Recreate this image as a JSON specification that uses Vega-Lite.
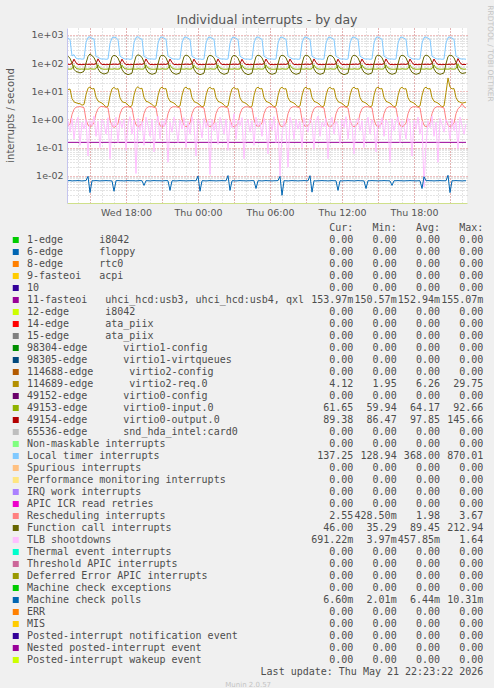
{
"$schema": "https://vega.github.io/schema/vega-lite/v6.json",
"background": "#f0f0f0",
"padding": {"left": 5, "top": 5, "right": 0, "bottom": 0},
"config": {"view": {"stroke": null}, "font": "DejaVu Sans"},
"spacing": 5,
"resolve": {"scale": {"color": "independent", "x": "independent", "y": "independent"}},
"datasets": {
"ts": [
{"t":"2026-05-20T13:10","lt":780,"fc":175,"o":91,"i":62,"rq":11.5,"rs":0.58,"u":0.153,"tlb":0.9,"mc":0.0066},
{"t":"2026-05-20T13:20","lt":690,"fc":150,"o":90,"i":61,"rq":12,"rs":0.7,"u":0.153,"tlb":0.35,"mc":0.0067},
{"t":"2026-05-20T13:30","lt":180,"fc":100,"o":97,"i":63,"rq":5.5,"rs":1.5,"u":0.153,"tlb":1.1,"mc":0.0065},
{"t":"2026-05-20T13:40","lt":200,"fc":60,"o":138,"i":84,"rq":4.2,"rs":2.3,"u":0.153,"tlb":0.2,"mc":0.0066},
{"t":"2026-05-20T13:50","lt":150,"fc":50,"o":102,"i":66,"rq":3.9,"rs":2.7,"u":0.153,"tlb":0.75,"mc":0.0066},
{"t":"2026-05-20T14:00","lt":141,"fc":48,"o":90,"i":62,"rq":3.7,"rs":2.8,"u":0.153,"tlb":1.2,"mc":0.0067},
{"t":"2026-05-20T14:10","lt":143,"fc":45,"o":89,"i":61,"rq":3.6,"rs":2.85,"u":0.153,"tlb":0.12,"mc":0.0066},
{"t":"2026-05-20T14:20","lt":138,"fc":47,"o":88,"i":62,"rq":3.2,"rs":2.75,"u":0.153,"tlb":0.8,"mc":0.0065},
{"t":"2026-05-20T14:30","lt":142,"fc":52,"o":90,"i":61,"rq":3.4,"rs":2.6,"u":0.153,"tlb":0.45,"mc":0.0066},
{"t":"2026-05-20T14:40","lt":540,"fc":100,"o":92,"i":62,"rq":7.5,"rs":1.0,"u":0.153,"tlb":1.0,"mc":0.0067},
{"t":"2026-05-20T14:50","lt":820,"fc":172,"o":90,"i":61,"rq":12.8,"rs":0.62,"u":0.153,"tlb":0.05,"mc":0.0095},
{"t":"2026-05-20T15:00","lt":860,"fc":213,"o":91,"i":63,"rq":14.2,"rs":0.55,"u":0.153,"tlb":0.9,"mc":0.0025},
{"t":"2026-05-20T15:10","lt":760,"fc":183,"o":92,"i":62,"rq":12,"rs":0.6,"u":0.153,"tlb":0.6,"mc":0.0066},
{"t":"2026-05-20T15:20","lt":720,"fc":158,"o":90,"i":61,"rq":12.6,"rs":0.78,"u":0.153,"tlb":1.3,"mc":0.0066},
{"t":"2026-05-20T15:30","lt":170,"fc":110,"o":96,"i":64,"rq":6.2,"rs":1.6,"u":0.153,"tlb":0.25,"mc":0.0067},
{"t":"2026-05-20T15:40","lt":165,"fc":64,"o":142,"i":87,"rq":4.5,"rs":2.4,"u":0.153,"tlb":0.85,"mc":0.0066},
{"t":"2026-05-20T15:50","lt":145,"fc":48,"o":105,"i":67,"rq":4.1,"rs":2.8,"u":0.153,"tlb":0.1,"mc":0.0065},
{"t":"2026-05-20T16:00","lt":139,"fc":44,"o":90,"i":62,"rq":3.8,"rs":2.9,"u":0.153,"tlb":1.0,"mc":0.0066},
{"t":"2026-05-20T16:10","lt":141,"fc":41,"o":89,"i":61,"rq":3.3,"rs":2.8,"u":0.153,"tlb":0.7,"mc":0.0066},
{"t":"2026-05-20T16:20","lt":137,"fc":43,"o":88,"i":61,"rq":2.7,"rs":2.7,"u":0.153,"tlb":0.3,"mc":0.0067},
{"t":"2026-05-20T16:30","lt":140,"fc":46,"o":89,"i":62,"rq":2.9,"rs":2.55,"u":0.153,"tlb":1.15,"mc":0.0066},
{"t":"2026-05-20T16:40","lt":500,"fc":92,"o":91,"i":62,"rq":6.8,"rs":0.95,"u":0.153,"tlb":0.04,"mc":0.0066},
{"t":"2026-05-20T16:50","lt":790,"fc":168,"o":90,"i":61,"rq":12.2,"rs":0.6,"u":0.153,"tlb":0.8,"mc":0.0065},
{"t":"2026-05-20T17:00","lt":840,"fc":190,"o":92,"i":63,"rq":13.8,"rs":0.52,"u":0.153,"tlb":0.55,"mc":0.0028},
{"t":"2026-05-20T17:10","lt":800,"fc":178,"o":91,"i":62,"rq":11.8,"rs":0.58,"u":0.153,"tlb":1.2,"mc":0.0066},
{"t":"2026-05-20T17:20","lt":690,"fc":152,"o":90,"i":61,"rq":12.4,"rs":0.72,"u":0.153,"tlb":0.15,"mc":0.0067},
{"t":"2026-05-20T17:30","lt":178,"fc":102,"o":95,"i":64,"rq":5.8,"rs":1.55,"u":0.153,"tlb":0.9,"mc":0.0066},
{"t":"2026-05-20T17:40","lt":158,"fc":60,"o":139,"i":85,"rq":4.3,"rs":2.35,"u":0.153,"tlb":0.5,"mc":0.0066},
{"t":"2026-05-20T17:50","lt":144,"fc":46,"o":103,"i":66,"rq":4.0,"rs":2.7,"u":0.153,"tlb":1.05,"mc":0.0065},
{"t":"2026-05-20T18:00","lt":138,"fc":42,"o":90,"i":62,"rq":3.9,"rs":2.85,"u":0.153,"tlb":0.08,"mc":0.0066},
{"t":"2026-05-20T18:10","lt":142,"fc":39,"o":89,"i":61,"rq":3.2,"rs":2.8,"u":0.153,"tlb":0.65,"mc":0.0067},
{"t":"2026-05-20T18:20","lt":136,"fc":41,"o":88,"i":61,"rq":2.8,"rs":2.7,"u":0.153,"tlb":1.25,"mc":0.0066},
{"t":"2026-05-20T18:30","lt":141,"fc":44,"o":89,"i":62,"rq":3.1,"rs":2.5,"u":0.153,"tlb":0.3,"mc":0.0066},
{"t":"2026-05-20T18:40","lt":530,"fc":98,"o":91,"i":62,"rq":7.2,"rs":1.05,"u":0.153,"tlb":0.95,"mc":0.0066},
{"t":"2026-05-20T18:50","lt":815,"fc":175,"o":90,"i":61,"rq":12.6,"rs":0.64,"u":0.153,"tlb":0.012,"mc":0.0065},
{"t":"2026-05-20T19:00","lt":870,"fc":198,"o":91,"i":63,"rq":14.5,"rs":0.56,"u":0.153,"tlb":1.1,"mc":0.0066},
{"t":"2026-05-20T19:10","lt":750,"fc":185,"o":92,"i":62,"rq":12.2,"rs":0.6,"u":0.153,"tlb":0.4,"mc":0.0067},
{"t":"2026-05-20T19:20","lt":710,"fc":160,"o":90,"i":61,"rq":12.8,"rs":0.76,"u":0.153,"tlb":0.85,"mc":0.0066},
{"t":"2026-05-20T19:30","lt":172,"fc":108,"o":97,"i":63,"rq":6.1,"rs":1.62,"u":0.153,"tlb":0.12,"mc":0.0045},
{"t":"2026-05-20T19:40","lt":162,"fc":63,"o":141,"i":86,"rq":4.4,"rs":2.42,"u":0.153,"tlb":1.2,"mc":0.0066},
{"t":"2026-05-20T19:50","lt":143,"fc":47,"o":104,"i":67,"rq":4.2,"rs":2.76,"u":0.153,"tlb":0.6,"mc":0.0066},
{"t":"2026-05-20T20:00","lt":140,"fc":43,"o":90,"i":62,"rq":3.8,"rs":2.86,"u":0.153,"tlb":0.25,"mc":0.0065},
{"t":"2026-05-20T20:10","lt":141,"fc":40,"o":89,"i":61,"rq":3.4,"rs":2.82,"u":0.153,"tlb":1.0,"mc":0.0066},
{"t":"2026-05-20T20:20","lt":138,"fc":42,"o":88,"i":61,"rq":2.9,"rs":2.68,"u":0.153,"tlb":0.07,"mc":0.0067},
{"t":"2026-05-20T20:30","lt":140,"fc":45,"o":89,"i":62,"rq":3.0,"rs":2.56,"u":0.153,"tlb":0.75,"mc":0.0066},
{"t":"2026-05-20T20:40","lt":510,"fc":94,"o":92,"i":62,"rq":6.9,"rs":0.98,"u":0.153,"tlb":1.3,"mc":0.0066},
{"t":"2026-05-20T20:50","lt":805,"fc":170,"o":90,"i":61,"rq":12.4,"rs":0.6,"u":0.153,"tlb":0.2,"mc":0.0066},
{"t":"2026-05-20T21:00","lt":855,"fc":193,"o":91,"i":63,"rq":14,"rs":0.54,"u":0.153,"tlb":0.9,"mc":0.0065},
{"t":"2026-05-20T21:10","lt":775,"fc":182,"o":91,"i":62,"rq":12.1,"rs":0.6,"u":0.153,"tlb":0.55,"mc":0.0066},
{"t":"2026-05-20T21:20","lt":705,"fc":156,"o":90,"i":61,"rq":12.5,"rs":0.74,"u":0.153,"tlb":1.1,"mc":0.0067},
{"t":"2026-05-20T21:30","lt":176,"fc":104,"o":96,"i":64,"rq":6,"rs":1.58,"u":0.153,"tlb":0.03,"mc":0.0066},
{"t":"2026-05-20T21:40","lt":161,"fc":62,"o":140,"i":86,"rq":4.4,"rs":2.4,"u":0.153,"tlb":0.8,"mc":0.0030},
{"t":"2026-05-20T21:50","lt":144,"fc":47,"o":104,"i":67,"rq":4.1,"rs":2.74,"u":0.153,"tlb":0.35,"mc":0.0066},
{"t":"2026-05-20T22:00","lt":139,"fc":43,"o":90,"i":62,"rq":3.8,"rs":2.84,"u":0.153,"tlb":1.2,"mc":0.0066},
{"t":"2026-05-20T22:10","lt":140,"fc":40,"o":89,"i":61,"rq":3.3,"rs":2.8,"u":0.153,"tlb":0.6,"mc":0.0065},
{"t":"2026-05-20T22:20","lt":137,"fc":42,"o":88,"i":61,"rq":2.8,"rs":2.7,"u":0.153,"tlb":0.15,"mc":0.0066},
{"t":"2026-05-20T22:30","lt":141,"fc":45,"o":89,"i":62,"rq":3.0,"rs":2.55,"u":0.153,"tlb":0.95,"mc":0.0067},
{"t":"2026-05-20T22:40","lt":525,"fc":96,"o":91,"i":62,"rq":7.1,"rs":1.0,"u":0.153,"tlb":0.45,"mc":0.0066},
{"t":"2026-05-20T22:50","lt":812,"fc":172,"o":90,"i":61,"rq":12.6,"rs":0.62,"u":0.153,"tlb":1.15,"mc":0.0066},
{"t":"2026-05-20T23:00","lt":848,"fc":194,"o":92,"i":63,"rq":14.1,"rs":0.55,"u":0.153,"tlb":0.1,"mc":0.0065},
{"t":"2026-05-20T23:10","lt":765,"fc":181,"o":91,"i":62,"rq":12,"rs":0.59,"u":0.153,"tlb":0.85,"mc":0.0066},
{"t":"2026-05-20T23:20","lt":698,"fc":154,"o":90,"i":61,"rq":12.4,"rs":0.75,"u":0.153,"tlb":0.3,"mc":0.0066},
{"t":"2026-05-20T23:30","lt":174,"fc":103,"o":95,"i":64,"rq":5.9,"rs":1.6,"u":0.153,"tlb":1.25,"mc":0.0067},
{"t":"2026-05-20T23:40","lt":159,"fc":61,"o":139,"i":85,"rq":4.3,"rs":2.38,"u":0.153,"tlb":0.6,"mc":0.0066},
{"t":"2026-05-20T23:50","lt":143,"fc":46,"o":103,"i":66,"rq":4.0,"rs":2.72,"u":0.153,"tlb":0.05,"mc":0.0066},
{"t":"2026-05-21T00:00","lt":138,"fc":42,"o":90,"i":62,"rq":3.7,"rs":2.84,"u":0.153,"tlb":1.0,"mc":0.0098},
{"t":"2026-05-21T00:10","lt":141,"fc":39,"o":89,"i":61,"rq":3.2,"rs":2.8,"u":0.153,"tlb":0.7,"mc":0.0028},
{"t":"2026-05-21T00:20","lt":136,"fc":41,"o":88,"i":61,"rq":2.8,"rs":2.7,"u":0.153,"tlb":0.22,"mc":0.0066},
{"t":"2026-05-21T00:30","lt":140,"fc":44,"o":89,"i":62,"rq":3.0,"rs":2.54,"u":0.153,"tlb":1.1,"mc":0.0066},
{"t":"2026-05-21T00:40","lt":515,"fc":95,"o":92,"i":62,"rq":7,"rs":1.02,"u":0.153,"tlb":0.5,"mc":0.0065},
{"t":"2026-05-21T00:50","lt":800,"fc":169,"o":90,"i":61,"rq":12.3,"rs":0.61,"u":0.153,"tlb":0.9,"mc":0.0066},
{"t":"2026-05-21T01:00","lt":845,"fc":191,"o":91,"i":63,"rq":13.9,"rs":0.55,"u":0.153,"tlb":0.011,"mc":0.0067},
{"t":"2026-05-21T01:10","lt":770,"fc":179,"o":91,"i":62,"rq":12,"rs":0.6,"u":0.153,"tlb":1.0,"mc":0.0066},
{"t":"2026-05-21T01:20","lt":702,"fc":155,"o":90,"i":61,"rq":12.5,"rs":0.74,"u":0.153,"tlb":0.4,"mc":0.0066},
{"t":"2026-05-21T01:30","lt":175,"fc":106,"o":96,"i":64,"rq":6,"rs":1.6,"u":0.153,"tlb":0.8,"mc":0.0065},
{"t":"2026-05-21T01:40","lt":160,"fc":62,"o":141,"i":86,"rq":4.4,"rs":2.4,"u":0.153,"tlb":0.13,"mc":0.0066},
{"t":"2026-05-21T01:50","lt":144,"fc":47,"o":104,"i":67,"rq":4.1,"rs":2.75,"u":0.153,"tlb":1.2,"mc":0.0066},
{"t":"2026-05-21T02:00","lt":139,"fc":43,"o":90,"i":62,"rq":3.8,"rs":2.85,"u":0.153,"tlb":0.65,"mc":0.0067},
{"t":"2026-05-21T02:10","lt":141,"fc":40,"o":89,"i":61,"rq":3.3,"rs":2.8,"u":0.153,"tlb":0.3,"mc":0.0066},
{"t":"2026-05-21T02:20","lt":137,"fc":42,"o":88,"i":61,"rq":2.8,"rs":2.7,"u":0.153,"tlb":1.05,"mc":0.0066},
{"t":"2026-05-21T02:30","lt":140,"fc":45,"o":89,"i":62,"rq":3.0,"rs":2.55,"u":0.153,"tlb":0.08,"mc":0.0101},
{"t":"2026-05-21T02:40","lt":505,"fc":93,"o":91,"i":62,"rq":6.8,"rs":0.99,"u":0.153,"tlb":0.85,"mc":0.0030},
{"t":"2026-05-21T02:50","lt":795,"fc":168,"o":90,"i":61,"rq":12.2,"rs":0.6,"u":0.153,"tlb":0.5,"mc":0.0066},
{"t":"2026-05-21T03:00","lt":840,"fc":190,"o":92,"i":63,"rq":13.8,"rs":0.54,"u":0.153,"tlb":1.6,"mc":0.0066},
{"t":"2026-05-21T03:10","lt":760,"fc":177,"o":91,"i":62,"rq":11.9,"rs":0.6,"u":0.153,"tlb":0.2,"mc":0.0065},
{"t":"2026-05-21T03:20","lt":695,"fc":150,"o":90,"i":61,"rq":12.3,"rs":0.73,"u":0.153,"tlb":0.95,"mc":0.0066},
{"t":"2026-05-21T03:30","lt":176,"fc":101,"o":95,"i":63,"rq":5.8,"rs":1.56,"u":0.153,"tlb":0.6,"mc":0.0067},
{"t":"2026-05-21T03:40","lt":158,"fc":60,"o":138,"i":85,"rq":4.3,"rs":2.36,"u":0.153,"tlb":1.15,"mc":0.0066},
{"t":"2026-05-21T03:50","lt":143,"fc":46,"o":102,"i":66,"rq":4.0,"rs":2.7,"u":0.153,"tlb":0.04,"mc":0.0066},
{"t":"2026-05-21T04:00","lt":138,"fc":42,"o":90,"i":62,"rq":3.7,"rs":2.82,"u":0.153,"tlb":0.7,"mc":0.0065},
{"t":"2026-05-21T04:10","lt":140,"fc":39,"o":89,"i":61,"rq":3.2,"rs":2.78,"u":0.153,"tlb":1.0,"mc":0.0066},
{"t":"2026-05-21T04:20","lt":136,"fc":41,"o":88,"i":61,"rq":2.7,"rs":2.68,"u":0.153,"tlb":0.35,"mc":0.0066},
{"t":"2026-05-21T04:30","lt":140,"fc":44,"o":89,"i":62,"rq":2.9,"rs":2.52,"u":0.153,"tlb":0.9,"mc":0.0067},
{"t":"2026-05-21T04:40","lt":520,"fc":95,"o":91,"i":62,"rq":7,"rs":1.0,"u":0.153,"tlb":0.12,"mc":0.0066},
{"t":"2026-05-21T04:50","lt":808,"fc":171,"o":90,"i":61,"rq":12.5,"rs":0.62,"u":0.153,"tlb":1.2,"mc":0.0035},
{"t":"2026-05-21T05:00","lt":852,"fc":193,"o":91,"i":63,"rq":14,"rs":0.55,"u":0.153,"tlb":0.55,"mc":0.0066},
{"t":"2026-05-21T05:10","lt":772,"fc":181,"o":92,"i":62,"rq":12.1,"rs":0.6,"u":0.153,"tlb":0.8,"mc":0.0066},
{"t":"2026-05-21T05:20","lt":700,"fc":155,"o":90,"i":61,"rq":12.5,"rs":0.75,"u":0.153,"tlb":0.25,"mc":0.0065},
{"t":"2026-05-21T05:30","lt":175,"fc":105,"o":96,"i":64,"rq":6,"rs":1.6,"u":0.153,"tlb":1.1,"mc":0.0066},
{"t":"2026-05-21T05:40","lt":160,"fc":62,"o":140,"i":86,"rq":4.4,"rs":2.4,"u":0.153,"tlb":0.6,"mc":0.0067},
{"t":"2026-05-21T05:50","lt":143,"fc":47,"o":104,"i":67,"rq":4.1,"rs":2.75,"u":0.153,"tlb":0.06,"mc":0.0066},
{"t":"2026-05-21T06:00","lt":139,"fc":43,"o":90,"i":62,"rq":3.8,"rs":2.85,"u":0.153,"tlb":0.95,"mc":0.0066},
{"t":"2026-05-21T06:10","lt":141,"fc":40,"o":89,"i":61,"rq":3.3,"rs":2.8,"u":0.153,"tlb":0.4,"mc":0.0065},
{"t":"2026-05-21T06:20","lt":137,"fc":42,"o":88,"i":61,"rq":2.8,"rs":2.7,"u":0.153,"tlb":1.25,"mc":0.0066},
{"t":"2026-05-21T06:30","lt":140,"fc":45,"o":89,"i":62,"rq":3.0,"rs":2.55,"u":0.153,"tlb":0.15,"mc":0.0066},
{"t":"2026-05-21T06:40","lt":512,"fc":94,"o":92,"i":62,"rq":6.9,"rs":1.01,"u":0.153,"tlb":0.75,"mc":0.0067},
{"t":"2026-05-21T06:50","lt":803,"fc":170,"o":90,"i":61,"rq":12.4,"rs":0.61,"u":0.153,"tlb":0.01,"mc":0.0095},
{"t":"2026-05-21T07:00","lt":846,"fc":192,"o":91,"i":63,"rq":13.9,"rs":0.55,"u":0.153,"tlb":0.3,"mc":0.00201},
{"t":"2026-05-21T07:10","lt":768,"fc":180,"o":91,"i":62,"rq":12,"rs":0.6,"u":0.153,"tlb":0.9,"mc":0.0066},
{"t":"2026-05-21T07:20","lt":701,"fc":154,"o":90,"i":61,"rq":12.4,"rs":0.74,"u":0.153,"tlb":0.5,"mc":0.0066},
{"t":"2026-05-21T07:30","lt":174,"fc":104,"o":96,"i":64,"rq":5.9,"rs":1.59,"u":0.153,"tlb":0.02,"mc":0.0065},
{"t":"2026-05-21T07:40","lt":160,"fc":62,"o":140,"i":86,"rq":4.4,"rs":2.4,"u":0.153,"tlb":1.2,"mc":0.0066},
{"t":"2026-05-21T07:50","lt":143,"fc":47,"o":104,"i":67,"rq":4.1,"rs":2.74,"u":0.153,"tlb":0.7,"mc":0.0067},
{"t":"2026-05-21T08:00","lt":139,"fc":43,"o":90,"i":62,"rq":3.8,"rs":2.84,"u":0.153,"tlb":0.2,"mc":0.0066},
{"t":"2026-05-21T08:10","lt":141,"fc":40,"o":89,"i":61,"rq":3.3,"rs":2.8,"u":0.153,"tlb":1.0,"mc":0.0066},
{"t":"2026-05-21T08:20","lt":137,"fc":42,"o":88,"i":61,"rq":2.8,"rs":2.7,"u":0.153,"tlb":0.45,"mc":0.0065},
{"t":"2026-05-21T08:30","lt":140,"fc":45,"o":89,"i":62,"rq":3.0,"rs":2.55,"u":0.153,"tlb":0.85,"mc":0.0066},
{"t":"2026-05-21T08:40","lt":518,"fc":95,"o":91,"i":62,"rq":7,"rs":1.0,"u":0.153,"tlb":0.1,"mc":0.0066},
{"t":"2026-05-21T08:50","lt":810,"fc":171,"o":90,"i":61,"rq":12.5,"rs":0.62,"u":0.153,"tlb":1.15,"mc":0.0067},
{"t":"2026-05-21T09:00","lt":850,"fc":194,"o":92,"i":63,"rq":14,"rs":0.55,"u":0.153,"tlb":0.6,"mc":0.0066},
{"t":"2026-05-21T09:10","lt":770,"fc":181,"o":91,"i":62,"rq":12,"rs":0.6,"u":0.153,"tlb":0.35,"mc":0.0066},
{"t":"2026-05-21T09:20","lt":700,"fc":155,"o":90,"i":61,"rq":12.5,"rs":0.75,"u":0.153,"tlb":1.05,"mc":0.0100},
{"t":"2026-05-21T09:30","lt":175,"fc":105,"o":96,"i":64,"rq":6,"rs":1.6,"u":0.153,"tlb":0.75,"mc":0.0026},
{"t":"2026-05-21T09:40","lt":160,"fc":62,"o":141,"i":86,"rq":4.4,"rs":2.4,"u":0.153,"tlb":0.09,"mc":0.0066},
{"t":"2026-05-21T09:50","lt":144,"fc":47,"o":104,"i":67,"rq":4.1,"rs":2.75,"u":0.153,"tlb":0.9,"mc":0.0065},
{"t":"2026-05-21T10:00","lt":139,"fc":43,"o":90,"i":62,"rq":3.8,"rs":2.85,"u":0.153,"tlb":1.3,"mc":0.0066},
{"t":"2026-05-21T10:10","lt":141,"fc":40,"o":89,"i":61,"rq":3.3,"rs":2.8,"u":0.153,"tlb":0.25,"mc":0.0066},
{"t":"2026-05-21T10:20","lt":137,"fc":42,"o":88,"i":61,"rq":2.8,"rs":2.7,"u":0.153,"tlb":0.8,"mc":0.0067},
{"t":"2026-05-21T10:30","lt":140,"fc":45,"o":89,"i":62,"rq":3.0,"rs":2.55,"u":0.153,"tlb":0.55,"mc":0.0066},
{"t":"2026-05-21T10:40","lt":508,"fc":93,"o":92,"i":62,"rq":6.9,"rs":0.99,"u":0.153,"tlb":1.1,"mc":0.0066},
{"t":"2026-05-21T10:50","lt":798,"fc":169,"o":90,"i":61,"rq":12.3,"rs":0.6,"u":0.153,"tlb":0.04,"mc":0.0065},
{"t":"2026-05-21T11:00","lt":843,"fc":191,"o":91,"i":63,"rq":13.9,"rs":0.54,"u":0.153,"tlb":0.7,"mc":0.0066},
{"t":"2026-05-21T11:10","lt":766,"fc":179,"o":91,"i":62,"rq":12,"rs":0.6,"u":0.153,"tlb":1.2,"mc":0.0067},
{"t":"2026-05-21T11:20","lt":697,"fc":153,"o":90,"i":61,"rq":12.4,"rs":0.74,"u":0.153,"tlb":0.3,"mc":0.0066},
{"t":"2026-05-21T11:30","lt":175,"fc":103,"o":95,"i":64,"rq":5.9,"rs":1.58,"u":0.153,"tlb":0.85,"mc":0.0066},
{"t":"2026-05-21T11:40","lt":159,"fc":61,"o":139,"i":85,"rq":4.3,"rs":2.38,"u":0.153,"tlb":0.6,"mc":0.0030},
{"t":"2026-05-21T11:50","lt":143,"fc":46,"o":103,"i":66,"rq":4.0,"rs":2.72,"u":0.153,"tlb":0.14,"mc":0.0066},
{"t":"2026-05-21T12:00","lt":138,"fc":42,"o":90,"i":62,"rq":3.7,"rs":2.83,"u":0.153,"tlb":1.0,"mc":0.0065},
{"t":"2026-05-21T12:10","lt":141,"fc":39,"o":89,"i":61,"rq":3.2,"rs":2.8,"u":0.153,"tlb":0.5,"mc":0.0066},
{"t":"2026-05-21T12:20","lt":136,"fc":41,"o":88,"i":61,"rq":2.8,"rs":2.7,"u":0.153,"tlb":1.25,"mc":0.0066},
{"t":"2026-05-21T12:30","lt":140,"fc":44,"o":89,"i":62,"rq":3.0,"rs":2.54,"u":0.153,"tlb":0.2,"mc":0.0067},
{"t":"2026-05-21T12:40","lt":515,"fc":95,"o":91,"i":62,"rq":7,"rs":1.0,"u":0.153,"tlb":0.95,"mc":0.0066},
{"t":"2026-05-21T12:50","lt":806,"fc":170,"o":90,"i":61,"rq":12.4,"rs":0.61,"u":0.153,"tlb":0.7,"mc":0.0066},
{"t":"2026-05-21T13:00","lt":848,"fc":193,"o":91,"i":63,"rq":14,"rs":0.55,"u":0.153,"tlb":0.06,"mc":0.0065},
{"t":"2026-05-21T13:10","lt":771,"fc":180,"o":92,"i":62,"rq":12.1,"rs":0.6,"u":0.153,"tlb":0.8,"mc":0.0066},
{"t":"2026-05-21T13:20","lt":703,"fc":155,"o":90,"i":61,"rq":12.5,"rs":0.75,"u":0.153,"tlb":1.1,"mc":0.0067},
{"t":"2026-05-21T13:30","lt":176,"fc":105,"o":96,"i":64,"rq":6,"rs":1.6,"u":0.153,"tlb":0.4,"mc":0.0066},
{"t":"2026-05-21T13:40","lt":160,"fc":62,"o":140,"i":86,"rq":4.4,"rs":2.4,"u":0.153,"tlb":0.9,"mc":0.0066},
{"t":"2026-05-21T13:50","lt":144,"fc":47,"o":104,"i":67,"rq":4.1,"rs":2.75,"u":0.153,"tlb":0.1,"mc":0.0065},
{"t":"2026-05-21T14:00","lt":139,"fc":43,"o":90,"i":62,"rq":3.8,"rs":2.85,"u":0.153,"tlb":0.65,"mc":0.0035},
{"t":"2026-05-21T14:10","lt":141,"fc":40,"o":89,"i":61,"rq":3.3,"rs":2.8,"u":0.153,"tlb":1.2,"mc":0.0066},
{"t":"2026-05-21T14:20","lt":137,"fc":42,"o":88,"i":61,"rq":2.8,"rs":2.7,"u":0.153,"tlb":0.3,"mc":0.0066},
{"t":"2026-05-21T14:30","lt":140,"fc":45,"o":89,"i":62,"rq":3.0,"rs":2.55,"u":0.153,"tlb":1.0,"mc":0.0067},
{"t":"2026-05-21T14:40","lt":520,"fc":96,"o":92,"i":62,"rq":7.1,"rs":1.0,"u":0.153,"tlb":0.55,"mc":0.0066},
{"t":"2026-05-21T14:50","lt":812,"fc":172,"o":90,"i":61,"rq":12.6,"rs":0.62,"u":0.153,"tlb":0.07,"mc":0.0066},
{"t":"2026-05-21T15:00","lt":855,"fc":195,"o":91,"i":63,"rq":14.1,"rs":0.55,"u":0.153,"tlb":0.85,"mc":0.0065},
{"t":"2026-05-21T15:10","lt":774,"fc":182,"o":91,"i":62,"rq":12.1,"rs":0.6,"u":0.153,"tlb":0.5,"mc":0.0066},
{"t":"2026-05-21T15:20","lt":706,"fc":157,"o":90,"i":61,"rq":12.5,"rs":0.75,"u":0.153,"tlb":1.15,"mc":0.0066},
{"t":"2026-05-21T15:30","lt":176,"fc":106,"o":96,"i":64,"rq":6.1,"rs":1.6,"u":0.153,"tlb":0.25,"mc":0.0067},
{"t":"2026-05-21T15:40","lt":161,"fc":63,"o":141,"i":86,"rq":4.4,"rs":2.41,"u":0.153,"tlb":0.95,"mc":0.0066},
{"t":"2026-05-21T15:50","lt":144,"fc":47,"o":104,"i":67,"rq":4.1,"rs":2.75,"u":0.153,"tlb":0.7,"mc":0.0066},
{"t":"2026-05-21T16:00","lt":139,"fc":43,"o":90,"i":62,"rq":3.8,"rs":2.85,"u":0.153,"tlb":0.03,"mc":0.0065},
{"t":"2026-05-21T16:10","lt":141,"fc":40,"o":89,"i":61,"rq":3.3,"rs":2.8,"u":0.153,"tlb":1.05,"mc":0.0045},
{"t":"2026-05-21T16:20","lt":137,"fc":42,"o":88,"i":61,"rq":2.8,"rs":2.7,"u":0.153,"tlb":0.4,"mc":0.0066},
{"t":"2026-05-21T16:30","lt":140,"fc":45,"o":89,"i":62,"rq":3.0,"rs":2.55,"u":0.153,"tlb":0.8,"mc":0.0066},
{"t":"2026-05-21T16:40","lt":510,"fc":94,"o":91,"i":62,"rq":6.9,"rs":0.99,"u":0.153,"tlb":1.25,"mc":0.0067},
{"t":"2026-05-21T16:50","lt":800,"fc":170,"o":90,"i":61,"rq":12.4,"rs":0.61,"u":0.153,"tlb":0.15,"mc":0.0066},
{"t":"2026-05-21T17:00","lt":846,"fc":192,"o":92,"i":63,"rq":13.9,"rs":0.55,"u":0.153,"tlb":0.9,"mc":0.0066},
{"t":"2026-05-21T17:10","lt":768,"fc":180,"o":91,"i":62,"rq":12,"rs":0.6,"u":0.153,"tlb":0.6,"mc":0.0065},
{"t":"2026-05-21T17:20","lt":699,"fc":154,"o":90,"i":61,"rq":12.4,"rs":0.74,"u":0.153,"tlb":0.2,"mc":0.0066},
{"t":"2026-05-21T17:30","lt":175,"fc":104,"o":95,"i":64,"rq":5.9,"rs":1.58,"u":0.153,"tlb":1.1,"mc":0.0066},
{"t":"2026-05-21T17:40","lt":160,"fc":62,"o":140,"i":86,"rq":4.4,"rs":2.4,"u":0.153,"tlb":0.75,"mc":0.0067},
{"t":"2026-05-21T17:50","lt":143,"fc":47,"o":104,"i":67,"rq":4.1,"rs":2.74,"u":0.153,"tlb":0.05,"mc":0.0066},
{"t":"2026-05-21T18:00","lt":139,"fc":43,"o":90,"i":62,"rq":3.8,"rs":2.84,"u":0.153,"tlb":0.95,"mc":0.0066},
{"t":"2026-05-21T18:10","lt":141,"fc":40,"o":89,"i":61,"rq":3.3,"rs":2.8,"u":0.153,"tlb":0.45,"mc":0.0065},
{"t":"2026-05-21T18:20","lt":137,"fc":42,"o":88,"i":61,"rq":2.8,"rs":2.7,"u":0.153,"tlb":1.2,"mc":0.0066},
{"t":"2026-05-21T18:30","lt":140,"fc":45,"o":89,"i":62,"rq":3.0,"rs":2.55,"u":0.153,"tlb":0.3,"mc":0.0066},
{"t":"2026-05-21T18:40","lt":517,"fc":95,"o":92,"i":62,"rq":7,"rs":1.0,"u":0.153,"tlb":0.85,"mc":0.0035},
{"t":"2026-05-21T18:50","lt":805,"fc":171,"o":90,"i":61,"rq":12.5,"rs":0.62,"u":0.153,"tlb":0.004,"mc":0.0092},
{"t":"2026-05-21T19:00","lt":850,"fc":194,"o":91,"i":63,"rq":14,"rs":0.55,"u":0.153,"tlb":0.12,"mc":0.0066},
{"t":"2026-05-21T19:10","lt":770,"fc":181,"o":91,"i":62,"rq":12.1,"rs":0.6,"u":0.153,"tlb":0.9,"mc":0.0067},
{"t":"2026-05-21T19:20","lt":702,"fc":155,"o":90,"i":61,"rq":12.5,"rs":0.75,"u":0.153,"tlb":0.5,"mc":0.0066},
{"t":"2026-05-21T19:30","lt":175,"fc":105,"o":96,"i":64,"rq":6,"rs":1.6,"u":0.153,"tlb":1.3,"mc":0.0066},
{"t":"2026-05-21T19:40","lt":160,"fc":62,"o":140,"i":86,"rq":4.4,"rs":2.4,"u":0.153,"tlb":0.25,"mc":0.0065},
{"t":"2026-05-21T19:50","lt":143,"fc":47,"o":104,"i":67,"rq":4.1,"rs":2.75,"u":0.153,"tlb":0.8,"mc":0.0066},
{"t":"2026-05-21T20:00","lt":139,"fc":43,"o":90,"i":62,"rq":3.8,"rs":2.85,"u":0.153,"tlb":0.03,"mc":0.0066},
{"t":"2026-05-21T20:10","lt":141,"fc":40,"o":89,"i":61,"rq":3.3,"rs":2.8,"u":0.153,"tlb":1.1,"mc":0.0067},
{"t":"2026-05-21T20:20","lt":137,"fc":42,"o":88,"i":61,"rq":2.8,"rs":2.7,"u":0.153,"tlb":0.65,"mc":0.0066},
{"t":"2026-05-21T20:30","lt":140,"fc":45,"o":89,"i":62,"rq":3.0,"rs":2.55,"u":0.153,"tlb":0.35,"mc":0.0066},
{"t":"2026-05-21T20:40","lt":515,"fc":95,"o":91,"i":62,"rq":9,"rs":1.0,"u":0.153,"tlb":1.0,"mc":0.0066},
{"t":"2026-05-21T20:50","lt":808,"fc":172,"o":90,"i":61,"rq":29.75,"rs":0.62,"u":0.153,"tlb":0.7,"mc":0.0103},
{"t":"2026-05-21T21:00","lt":852,"fc":194,"o":91,"i":63,"rq":14,"rs":0.55,"u":0.153,"tlb":0.2,"mc":0.0025},
{"t":"2026-05-21T21:10","lt":772,"fc":182,"o":92,"i":62,"rq":12.1,"rs":0.6,"u":0.153,"tlb":1.05,"mc":0.0066},
{"t":"2026-05-21T21:20","lt":704,"fc":156,"o":90,"i":61,"rq":12.5,"rs":0.75,"u":0.153,"tlb":0.4,"mc":0.0066},
{"t":"2026-05-21T21:30","lt":176,"fc":105,"o":96,"i":64,"rq":6,"rs":1.6,"u":0.153,"tlb":0.85,"mc":0.0067},
{"t":"2026-05-21T21:40","lt":161,"fc":62,"o":145.66,"i":92.66,"rq":4.4,"rs":2.4,"u":0.153,"tlb":0.09,"mc":0.0066},
{"t":"2026-05-21T21:50","lt":144,"fc":47,"o":104,"i":67,"rq":4.1,"rs":2.75,"u":0.153,"tlb":1.2,"mc":0.0066},
{"t":"2026-05-21T22:00","lt":139,"fc":43,"o":90,"i":62,"rq":3.8,"rs":3.6,"u":0.153,"tlb":0.6,"mc":0.0065},
{"t":"2026-05-21T22:10","lt":141,"fc":44,"o":89,"i":61,"rq":3.9,"rs":2.8,"u":0.153,"tlb":0.3,"mc":0.0066},
{"t":"2026-05-21T22:20","lt":137.25,"fc":46,"o":89.38,"i":61.65,"rq":4.12,"rs":2.55,"u":0.153,"tlb":0.691,"mc":0.0066}
],
"ytitle": [{"txt":"interrupts / second"}],
"rrd": [{"txt":"RRDTOOL / TOBI OETIKER"}],
"leg": [
{"i":1,"label":"1-edge\u00a0\u00a0\u00a0\u00a0\u00a0\u00a0i8042","cur":"0.00\u00a0","min":"0.00\u00a0","avg":"0.00\u00a0","max":"0.00\u00a0"},
{"i":2,"label":"6-edge\u00a0\u00a0\u00a0\u00a0\u00a0\u00a0floppy","cur":"0.00\u00a0","min":"0.00\u00a0","avg":"0.00\u00a0","max":"0.00\u00a0"},
{"i":3,"label":"8-edge\u00a0\u00a0\u00a0\u00a0\u00a0\u00a0rtc0","cur":"0.00\u00a0","min":"0.00\u00a0","avg":"0.00\u00a0","max":"0.00\u00a0"},
{"i":4,"label":"9-fasteoi\u00a0\u00a0\u00a0acpi","cur":"0.00\u00a0","min":"0.00\u00a0","avg":"0.00\u00a0","max":"0.00\u00a0"},
{"i":5,"label":"10","cur":"0.00\u00a0","min":"0.00\u00a0","avg":"0.00\u00a0","max":"0.00\u00a0"},
{"i":6,"label":"11-fasteoi\u00a0\u00a0\u00a0uhci_hcd:usb3,\u00a0uhci_hcd:usb4,\u00a0qxl","cur":"153.97m","min":"150.57m","avg":"152.94m","max":"155.07m"},
{"i":7,"label":"12-edge\u00a0\u00a0\u00a0\u00a0\u00a0\u00a0i8042","cur":"0.00\u00a0","min":"0.00\u00a0","avg":"0.00\u00a0","max":"0.00\u00a0"},
{"i":8,"label":"14-edge\u00a0\u00a0\u00a0\u00a0\u00a0\u00a0ata_piix","cur":"0.00\u00a0","min":"0.00\u00a0","avg":"0.00\u00a0","max":"0.00\u00a0"},
{"i":9,"label":"15-edge\u00a0\u00a0\u00a0\u00a0\u00a0\u00a0ata_piix","cur":"0.00\u00a0","min":"0.00\u00a0","avg":"0.00\u00a0","max":"0.00\u00a0"},
{"i":10,"label":"98304-edge\u00a0\u00a0\u00a0\u00a0\u00a0\u00a0virtio1-config","cur":"0.00\u00a0","min":"0.00\u00a0","avg":"0.00\u00a0","max":"0.00\u00a0"},
{"i":11,"label":"98305-edge\u00a0\u00a0\u00a0\u00a0\u00a0\u00a0virtio1-virtqueues","cur":"0.00\u00a0","min":"0.00\u00a0","avg":"0.00\u00a0","max":"0.00\u00a0"},
{"i":12,"label":"114688-edge\u00a0\u00a0\u00a0\u00a0\u00a0\u00a0virtio2-config","cur":"0.00\u00a0","min":"0.00\u00a0","avg":"0.00\u00a0","max":"0.00\u00a0"},
{"i":13,"label":"114689-edge\u00a0\u00a0\u00a0\u00a0\u00a0\u00a0virtio2-req.0","cur":"4.12\u00a0","min":"1.95\u00a0","avg":"6.26\u00a0","max":"29.75\u00a0"},
{"i":14,"label":"49152-edge\u00a0\u00a0\u00a0\u00a0\u00a0\u00a0virtio0-config","cur":"0.00\u00a0","min":"0.00\u00a0","avg":"0.00\u00a0","max":"0.00\u00a0"},
{"i":15,"label":"49153-edge\u00a0\u00a0\u00a0\u00a0\u00a0\u00a0virtio0-input.0","cur":"61.65\u00a0","min":"59.94\u00a0","avg":"64.17\u00a0","max":"92.66\u00a0"},
{"i":16,"label":"49154-edge\u00a0\u00a0\u00a0\u00a0\u00a0\u00a0virtio0-output.0","cur":"89.38\u00a0","min":"86.47\u00a0","avg":"97.85\u00a0","max":"145.66\u00a0"},
{"i":17,"label":"65536-edge\u00a0\u00a0\u00a0\u00a0\u00a0\u00a0snd_hda_intel:card0","cur":"0.00\u00a0","min":"0.00\u00a0","avg":"0.00\u00a0","max":"0.00\u00a0"},
{"i":18,"label":"Non-maskable interrupts","cur":"0.00\u00a0","min":"0.00\u00a0","avg":"0.00\u00a0","max":"0.00\u00a0"},
{"i":19,"label":"Local timer interrupts","cur":"137.25\u00a0","min":"128.94\u00a0","avg":"368.00\u00a0","max":"870.01\u00a0"},
{"i":20,"label":"Spurious interrupts","cur":"0.00\u00a0","min":"0.00\u00a0","avg":"0.00\u00a0","max":"0.00\u00a0"},
{"i":21,"label":"Performance monitoring interrupts","cur":"0.00\u00a0","min":"0.00\u00a0","avg":"0.00\u00a0","max":"0.00\u00a0"},
{"i":22,"label":"IRQ work interrupts","cur":"0.00\u00a0","min":"0.00\u00a0","avg":"0.00\u00a0","max":"0.00\u00a0"},
{"i":23,"label":"APIC ICR read retries","cur":"0.00\u00a0","min":"0.00\u00a0","avg":"0.00\u00a0","max":"0.00\u00a0"},
{"i":24,"label":"Rescheduling interrupts","cur":"2.55\u00a0","min":"428.50m","avg":"1.98\u00a0","max":"3.67\u00a0"},
{"i":25,"label":"Function call interrupts","cur":"46.00\u00a0","min":"35.29\u00a0","avg":"89.45\u00a0","max":"212.94\u00a0"},
{"i":26,"label":"TLB shootdowns","cur":"691.22m","min":"3.97m","avg":"457.85m","max":"1.64\u00a0"},
{"i":27,"label":"Thermal event interrupts","cur":"0.00\u00a0","min":"0.00\u00a0","avg":"0.00\u00a0","max":"0.00\u00a0"},
{"i":28,"label":"Threshold APIC interrupts","cur":"0.00\u00a0","min":"0.00\u00a0","avg":"0.00\u00a0","max":"0.00\u00a0"},
{"i":29,"label":"Deferred Error APIC interrupts","cur":"0.00\u00a0","min":"0.00\u00a0","avg":"0.00\u00a0","max":"0.00\u00a0"},
{"i":30,"label":"Machine check exceptions","cur":"0.00\u00a0","min":"0.00\u00a0","avg":"0.00\u00a0","max":"0.00\u00a0"},
{"i":31,"label":"Machine check polls","cur":"6.60m","min":"2.01m","avg":"6.44m","max":"10.31m"},
{"i":32,"label":"ERR","cur":"0.00\u00a0","min":"0.00\u00a0","avg":"0.00\u00a0","max":"0.00\u00a0"},
{"i":33,"label":"MIS","cur":"0.00\u00a0","min":"0.00\u00a0","avg":"0.00\u00a0","max":"0.00\u00a0"},
{"i":34,"label":"Posted-interrupt notification event","cur":"0.00\u00a0","min":"0.00\u00a0","avg":"0.00\u00a0","max":"0.00\u00a0"},
{"i":35,"label":"Nested posted-interrupt event","cur":"0.00\u00a0","min":"0.00\u00a0","avg":"0.00\u00a0","max":"0.00\u00a0"},
{"i":36,"label":"Posted-interrupt wakeup event","cur":"0.00\u00a0","min":"0.00\u00a0","avg":"0.00\u00a0","max":"0.00\u00a0"}
],
"hdr": [
{"i":0,"stat":"cur","h":"Cur:\u00a0\u00a0"},
{"i":0,"stat":"min","h":"Min:\u00a0\u00a0"},
{"i":0,"stat":"avg","h":"Avg:\u00a0\u00a0"},
{"i":0,"stat":"max","h":"Max:\u00a0\u00a0"}
],
"foot": [
{"i":37,"stat":"max","f":"Last update: Thu May 21 22:23:22 2026"}
]
},
"vconcat": [
{
"hconcat": [
{
"width": 11,
"height": 175,
"data": {"name": "ytitle"},
"mark": {"type": "text", "angle": 270, "align": "center", "baseline": "middle", "fontSize": 10, "color": "#555555", "font": "DejaVu Sans"},
"encoding": {"text": {"field": "txt"}}
},
{
"hconcat": [
{
"width": 400,
"height": 175,
"view": {"fill": "#ffffff", "stroke": null},
"title": {"text": "Individual interrupts - by day", "fontSize": 12.5, "fontWeight": "normal", "color": "#555555", "font": "DejaVu Sans", "anchor": "middle", "offset": 2},
"data": {"name": "ts"},
"transform": [{"fold": ["u","rq","i","o","lt","rs","fc","tlb","mc"], "as": ["s","v"]}],
"resolve": {"axis": {"x": "independent", "y": "independent"}},
"layer": [
{
"transform": [{"filter": "datum.s == 'u'"}],
"mark": {"type": "point", "opacity": 0},
"encoding": {
"x": {"field": "t", "type": "temporal", "axis": {"orient": "bottom", "title": null, "tickCount": 34, "grid": true, "gridColor": "#c8c8c8", "gridDash": [1,2], "labels": false, "ticks": false, "domain": false}},
"y": {"field": "v", "type": "quantitative", "axis": {"orient": "left", "title": null, "values": [0.002,0.003,0.004,0.005,0.006,0.007,0.008,0.009,0.02,0.03,0.04,0.05,0.06,0.07,0.08,0.09,0.2,0.3,0.4,0.5,0.6,0.7,0.8,0.9,2,3,4,5,6,7,8,9,20,30,40,50,60,70,80,90,200,300,400,500,600,700,800,900], "grid": true, "gridColor": "#c8c8c8", "gridDash": [1,2], "labels": false, "ticks": false, "domain": false}}
}
},
{
"transform": [{"filter": "datum.s == 'u'"}],
"mark": {"type": "point", "opacity": 0},
"encoding": {
"x": {"field": "t", "type": "temporal", "axis": {"orient": "bottom", "title": null, "tickCount": 11, "grid": true, "gridColor": "#e08080", "gridDash": [1,2], "labels": false, "ticks": false, "domain": false}},
"y": {"field": "v", "type": "quantitative", "axis": null}
}
},
{
"mark": {"type": "line", "strokeWidth": 1},
"encoding": {
"x": {"field": "t", "type": "temporal", "scale": {"domain": [{"year": 2026, "month": 5, "date": 20, "hours": 13, "minutes": 5}, {"year": 2026, "month": 5, "date": 21, "hours": 22, "minutes": 25}], "nice": false}, "axis": {"orient": "bottom", "title": null, "format": "%a %H:%M", "tickCount": 6, "grid": false, "ticks": false, "tickSize": 0, "labelPadding": 4, "labelFontSize": 9.5, "labelColor": "#555555", "labelFont": "DejaVu Sans", "domainColor": "#cfe08a", "labelFlush": false, "labelOverlap": false}},
"y": {"field": "v", "type": "quantitative", "scale": {"type": "log", "domain": [0.00107, 1770], "nice": false}, "axis": {"orient": "left", "title": null, "values": [0.01,0.1,1,10,100,1000], "labelExpr": "'1e' + (datum.value < 1 ? '-' : '+') + '0' + abs(round(log(datum.value) / LN10))", "labelFontSize": 9.5, "labelFont": "DejaVu Sans", "labelColor": "#555555", "labelPadding": 4, "ticks": false, "tickSize": 0, "grid": true, "gridColor": "#e08080", "gridDash": [1,2], "domainColor": "#c4c4ee"}},
"color": {"field": "s", "type": "nominal", "scale": {"domain": ["u","rq","i","o","lt","rs","fc","tlb","mc"], "range": ["#990099","#B38F00","#8FB300","#B30000","#80C9FF","#FF8080","#666600","#FFBFFF","#0066B3"]}, "legend": null}
}
}
]
},
{
"width": 8,
"height": 51,
"data": {"name": "rrd"},
"mark": {"type": "text", "angle": 90, "align": "center", "baseline": "middle", "fontSize": 7.5, "color": "#c4c4c4", "font": "DejaVu Sans"},
"encoding": {"text": {"field": "txt"}}
}
],
"spacing": 19,
"bounds": "flush"
}
],
"spacing": 51,
"bounds": "flush"
},
{
"hconcat": [
{
"width": 21.5,
"height": 456,
"data": {"name": "leg"},
"mark": {"type": "square", "size": 36, "opacity": 1},
"encoding": {
"y": {"field": "i", "type": "quantitative", "scale": {"domain": [-0.5, 37.5], "reverse": true, "nice": false, "zero": false}, "axis": null},
"color": {"field": "i", "type": "nominal", "scale": {"domain": [1,2,3,4,5,6,7,8,9,10,11,12,13,14,15,16,17,18,19,20,21,22,23,24,25,26,27,28,29,30,31,32,33,34,35,36], "range": ["#00CC00","#0066B3","#FF8000","#FFCC00","#330099","#990099","#CCFF00","#FF0000","#808080","#008F00","#00487D","#B35A00","#B38F00","#6B006B","#8FB300","#B30000","#BEBEBE","#80FF80","#80C9FF","#FFC080","#FFE680","#AA80FF","#EE00CC","#FF8080","#666600","#FFBFFF","#00FFCC","#CC6699","#999900","#00CC00","#0066B3","#FF8000","#FFCC00","#330099","#990099","#CCFF00"]}, "legend": null}
}
},
{
"width": 282.83,
"height": 456,
"data": {"name": "leg"},
"mark": {"type": "text", "align": "left", "baseline": "middle", "font": "DejaVu Sans Mono", "fontSize": 10, "color": "#4d4d4d"},
"encoding": {
"x": {"datum": 0, "type": "quantitative", "scale": {"domain": [0, 1]}, "axis": null},
"y": {"field": "i", "type": "quantitative", "scale": {"domain": [-0.5, 37.5], "reverse": true, "nice": false, "zero": false}, "axis": null},
"text": {"field": "label"}
}
},
{
"width": 173.33,
"height": 456,
"layer": [
{
"data": {"name": "leg"},
"transform": [{"fold": ["cur","min","avg","max"], "as": ["stat","val"]}],
"mark": {"type": "text", "align": "right", "baseline": "middle", "font": "DejaVu Sans Mono", "fontSize": 10, "color": "#4d4d4d"},
"encoding": {
"x": {"field": "stat", "type": "nominal", "bandPosition": 1, "scale": {"type": "band", "domain": ["cur","min","avg","max"], "paddingInner": 0, "paddingOuter": 0}, "axis": null},
"y": {"field": "i", "type": "quantitative", "scale": {"domain": [-0.5, 37.5], "reverse": true, "nice": false, "zero": false}, "axis": null},
"text": {"field": "val"}
}
},
{
"data": {"name": "hdr"},
"mark": {"type": "text", "align": "right", "baseline": "middle", "font": "DejaVu Sans Mono", "fontSize": 10, "color": "#4d4d4d"},
"encoding": {
"x": {"field": "stat", "type": "nominal", "bandPosition": 1, "axis": null},
"y": {"field": "i", "type": "quantitative", "axis": null},
"text": {"field": "h"}
}
},
{
"data": {"name": "foot"},
"mark": {"type": "text", "align": "right", "baseline": "middle", "font": "DejaVu Sans Mono", "fontSize": 10, "color": "#4d4d4d"},
"encoding": {
"x": {"field": "stat", "type": "nominal", "bandPosition": 1, "axis": null},
"y": {"field": "i", "type": "quantitative", "axis": null},
"text": {"field": "f"}
}
}
]
}
],
"spacing": 0,
"bounds": "flush",
"resolve": {"scale": {"x": "independent", "y": "independent", "color": "independent"}},
"title": {"text": "Munin 2.0.57", "orient": "bottom", "anchor": "middle", "fontSize": 7, "fontWeight": "normal", "color": "#c4c4c4", "font": "DejaVu Sans", "offset": 3, "dx": 4}
}
]
}
